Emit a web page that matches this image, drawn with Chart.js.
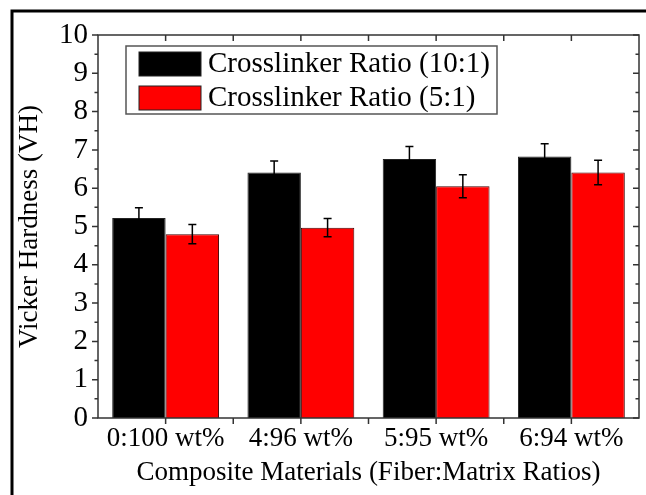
<!DOCTYPE html>
<html>
<head>
<meta charset="utf-8">
<script src="https://cdn.jsdelivr.net/npm/chart.js@4/dist/chart.umd.min.js"></script>
<style>
  html, body { margin: 0; padding: 0; background: #fff; }
  #wrap { width: 646px; height: 495px; }
</style>
</head>
<body>
<div id="wrap"><canvas id="chart" width="646" height="495"></canvas></div>
<script>
const categories = ['0:100 wt%', '4:96 wt%', '5:95 wt%', '6:94 wt%'];
const ratio10 = [5.22, 6.41, 6.76, 6.83];
const ratio10Err = [0.27, 0.30, 0.33, 0.33];
const ratio5 = [4.80, 4.97, 6.05, 6.41];
const ratio5Err = [0.25, 0.24, 0.30, 0.32];
const seriesNames = ['Crosslinker Ratio (10:1)', 'Crosslinker Ratio (5:1)'];

const SERIF = "'Liberation Serif', 'Times New Roman', serif";
const axisColor = '#333';

// error bars, tick marks, frame and the in-plot legend
const decor = {
  id: 'decor',
  afterDatasetsDraw(chart) {
    const ctx = chart.ctx;
    const yScale = chart.scales.y;
    const errs = [ratio10Err, ratio5Err];
    ctx.save();
    ctx.strokeStyle = '#000';
    ctx.lineWidth = 1.5;
    chart.data.datasets.forEach((ds, di) => {
      const meta = chart.getDatasetMeta(di);
      meta.data.forEach((bar, i) => {
        const v = ds.data[i];
        const top = yScale.getPixelForValue(v + errs[di][i]);
        const bot = yScale.getPixelForValue(v - errs[di][i]);
        ctx.beginPath();
        ctx.moveTo(bar.x, top); ctx.lineTo(bar.x, bot);
        ctx.moveTo(bar.x - 4, top); ctx.lineTo(bar.x + 4, top);
        ctx.moveTo(bar.x - 4, bot); ctx.lineTo(bar.x + 4, bot);
        ctx.stroke();
      });
    });
    ctx.restore();
  },
  afterDraw(chart) {
    const ctx = chart.ctx;
    const {left, right, top, bottom} = chart.chartArea;
    const x = chart.scales.x, y = chart.scales.y;
    ctx.save();
    ctx.strokeStyle = axisColor;
    ctx.lineWidth = 1.5;
    ctx.strokeRect(left, top, right - left, bottom - top);

    ctx.beginPath();
    for (let v = 0; v <= 10; v += 0.5) {
      const py = y.getPixelForValue(v);
      const len = Number.isInteger(v) ? 6 : 3.5;
      ctx.moveTo(left, py); ctx.lineTo(left - len, py);
      ctx.moveTo(right, py); ctx.lineTo(right - len, py);
    }
    for (let i = 0; i < categories.length; i++) {
      const cx = x.getPixelForValue(i);
      ctx.moveTo(cx, bottom); ctx.lineTo(cx, bottom + 6);
      ctx.moveTo(cx, top); ctx.lineTo(cx, top + 6);
      if (i > 0) {
        const bx = (cx + x.getPixelForValue(i - 1)) / 2;
        ctx.moveTo(bx, bottom); ctx.lineTo(bx, bottom + 6);
        ctx.moveTo(bx, top); ctx.lineTo(bx, top + 6);
      }
    }
    ctx.stroke();

    // legend box
    const lx = 126, ly = 46, lw = 371, lh = 68;
    ctx.fillStyle = '#fff';
    ctx.fillRect(lx, ly, lw, lh);
    ctx.strokeStyle = '#555';
    ctx.strokeRect(lx, ly, lw, lh);
    ctx.font = '29px ' + SERIF;
    ctx.textBaseline = 'middle';
    chart.data.datasets.forEach((ds, di) => {
      const sy = ly + 6 + di * 34;
      ctx.fillStyle = ds.backgroundColor;
      ctx.fillRect(lx + 13, sy, 62, 24);
      ctx.strokeStyle = '#222';
      ctx.lineWidth = 1;
      ctx.strokeRect(lx + 13, sy, 62, 24);
      ctx.fillStyle = '#000';
      ctx.fillText(seriesNames[di], lx + 82, sy + 12);
    });

    // outer frame of the figure
    ctx.strokeStyle = '#000';
    ctx.lineWidth = 3;
    ctx.strokeRect(12, 11, 700, 600);
    ctx.restore();
  }
};

new Chart(document.getElementById('chart'), {
  type: 'bar',
  data: {
    labels: categories,
    datasets: [
      { label: seriesNames[0], data: ratio10, backgroundColor: '#000000', borderColor: '#222', borderWidth: 1 },
      { label: seriesNames[1], data: ratio5, backgroundColor: '#ff0000', borderColor: '#400000', borderWidth: 1 }
    ]
  },
  options: {
    responsive: false,
    animation: false,
    datasets: { bar: { categoryPercentage: 0.79, barPercentage: 1.0 } },
    layout: { padding: { top: 35, right: 7, bottom: 0, left: 0 } },
    plugins: { legend: { display: false }, tooltip: { enabled: false } },
    scales: {
      x: {
        grid: { display: false, drawTicks: false },
        border: { display: false },
        ticks: { color: '#000', font: { family: SERIF, size: 27 }, padding: 5 },
        title: { display: true, text: 'Composite Materials (Fiber:Matrix Ratios)', color: '#000',
                 font: { family: SERIF, size: 27 }, padding: { top: 0, bottom: 6 } },
        afterFit(s) { s.height = 77; }
      },
      y: {
        min: 0, max: 10,
        grid: { display: false, drawTicks: false },
        border: { display: false },
        ticks: { stepSize: 1, autoSkip: false, color: '#000', font: { family: SERIF, size: 29 }, padding: 10 },
        title: { display: true, text: 'Vicker Hardness (VH)', color: '#000',
                 font: { family: SERIF, size: 27 }, padding: { top: 14, bottom: 0 } },
        afterFit(s) { s.width = 98; }
      }
    }
  },
  plugins: [decor]
});
</script>
</body>
</html>
